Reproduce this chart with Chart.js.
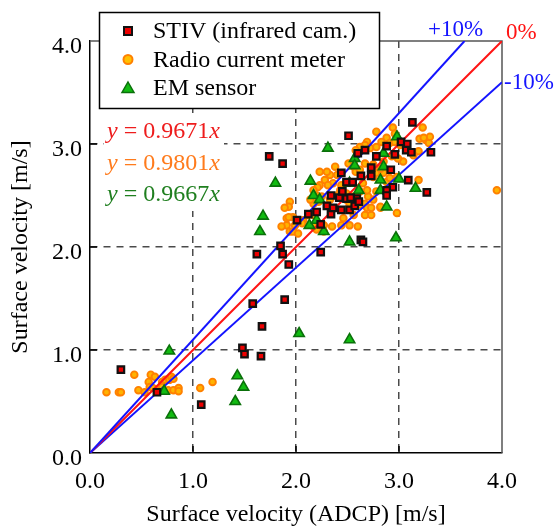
<!DOCTYPE html>
<html>
<head>
<meta charset="utf-8">
<script src="https://cdn.jsdelivr.net/npm/chart.js@4.4.0/dist/chart.umd.min.js"></script>
<style>
  html, body { margin: 0; padding: 0; background: #fff; }
  #wrap { position: relative; width: 555px; height: 531px; }
</style>
</head>
<body>
<div id="wrap"><canvas id="velocity-scatter-id"></canvas></div>
<script>
// ===================== DATA =====================
// surface velocity [m/s] : [ADCP, measured]
const stivPoints = [
  [0.30, 0.81], [0.65, 0.59], [1.08, 0.47], [1.48, 1.02], [1.50, 0.96], [1.66, 0.94],
  [1.67, 1.23], [1.58, 1.45], [1.89, 1.49], [1.74, 2.88], [1.87, 2.81], [2.01, 2.26],
  [2.12, 2.32], [1.85, 2.01], [1.62, 1.93], [1.87, 1.93], [1.93, 1.83], [2.20, 2.34],
  [2.24, 1.95], [2.24, 2.22], [2.30, 2.40], [2.34, 2.32], [2.36, 2.38], [2.44, 2.36],
  [2.42, 2.48], [2.45, 2.54], [2.49, 2.47], [2.52, 2.36], [2.57, 2.40], [2.59, 2.47],
  [2.51, 3.08], [2.44, 2.72], [2.49, 2.63], [2.55, 2.63], [2.60, 2.91], [3.13, 3.21],
  [3.02, 3.02], [3.08, 3.00], [2.88, 2.98], [3.07, 2.94], [3.12, 2.92], [3.31, 2.92],
  [2.96, 2.90], [2.67, 2.94], [2.78, 2.88], [2.92, 2.75], [2.73, 2.77], [2.73, 2.69],
  [2.63, 2.69], [3.09, 2.65], [3.27, 2.53], [2.94, 2.58], [2.88, 2.55], [2.88, 2.50],
  [2.34, 2.50], [2.53, 2.48], [2.61, 2.44], [2.63, 2.07], [2.65, 2.05]
];

const radioPoints = [
  [0.16, 0.59], [0.28, 0.59], [0.30, 0.59], [0.43, 0.76], [0.47, 0.61], [0.53, 0.59],
  [0.57, 0.69], [0.59, 0.76], [0.63, 0.74], [0.58, 0.64], [0.61, 0.63], [0.70, 0.69],
  [0.73, 0.71], [0.77, 0.71], [0.79, 0.74], [0.81, 0.72], [0.66, 0.61], [0.76, 0.61],
  [0.81, 0.61], [0.86, 0.63], [0.86, 0.60], [0.70, 0.64], [1.07, 0.63], [1.19, 0.69],
  [2.78, 3.12], [2.94, 3.16], [2.96, 3.10], [2.88, 3.06], [2.83, 3.02], [2.91, 3.01],
  [2.96, 3.02], [3.01, 2.99], [2.69, 3.02], [2.67, 2.99], [2.62, 2.97], [2.58, 2.94],
  [2.72, 2.96], [2.78, 2.97], [3.23, 3.16], [3.20, 3.05], [3.26, 3.04], [3.29, 3.01],
  [3.19, 2.93], [3.14, 2.89], [3.04, 2.83], [2.99, 2.86], [2.93, 2.88], [2.85, 2.83],
  [2.51, 2.81], [2.56, 2.83], [2.56, 2.78], [2.58, 2.73], [2.62, 2.75], [2.67, 2.81],
  [2.38, 2.78], [2.40, 2.70], [2.33, 2.70], [2.30, 2.73], [2.28, 2.65], [2.36, 2.62],
  [2.31, 2.60], [2.44, 2.60], [2.43, 2.55], [2.40, 2.50], [2.49, 2.46], [2.52, 2.42],
  [2.62, 2.41], [2.67, 2.42], [2.69, 2.38], [2.73, 2.38], [2.82, 2.38], [2.75, 2.46],
  [2.70, 2.49], [2.78, 2.54], [2.88, 2.63], [2.91, 2.67], [2.98, 2.68], [3.19, 2.65],
  [2.98, 2.33], [2.23, 2.60], [2.21, 2.58], [2.17, 2.55], [2.20, 2.50], [2.22, 2.44],
  [2.17, 2.42], [2.14, 2.46], [1.94, 2.44], [1.93, 2.39], [1.89, 2.38], [1.91, 2.28],
  [1.97, 2.29], [1.91, 2.21], [1.99, 2.21], [1.94, 2.15], [1.97, 2.15], [1.86, 2.20],
  [2.07, 2.26], [2.12, 2.31], [2.17, 2.31], [2.17, 2.20], [2.27, 2.21], [2.35, 2.20],
  [2.44, 2.21], [2.52, 2.21], [2.60, 2.20], [2.46, 2.28], [2.56, 2.31], [2.67, 2.31],
  [2.73, 2.31], [2.82, 2.39], [2.59, 2.49], [2.62, 2.54], [2.69, 2.55], [2.65, 2.62],
  [2.75, 2.68], [2.78, 2.72], [2.85, 2.72], [2.82, 2.76], [2.75, 2.80], [2.23, 2.73],
  [2.25, 2.49], [2.33, 2.46], [2.49, 2.52], [2.54, 2.49], [2.06, 2.23], [2.02, 2.13],
  [2.20, 2.17], [2.27, 2.15], [3.95, 2.55], [3.30, 3.07], [1.93, 2.29], [3.24, 3.06]
];

const emPoints = [
  [0.77, 0.99], [0.72, 0.60], [0.79, 0.37], [1.43, 0.75], [1.49, 0.64], [1.41, 0.50],
  [2.03, 1.16], [2.52, 1.10], [1.80, 2.62], [1.68, 2.30], [1.65, 2.15], [2.14, 2.64],
  [2.31, 2.96], [2.57, 2.86], [2.57, 2.79], [2.98, 3.07], [2.85, 2.91], [2.85, 2.78],
  [2.82, 2.65], [3.00, 2.66], [3.16, 2.57], [2.17, 2.50], [2.23, 2.46], [2.52, 2.62],
  [2.61, 2.55], [2.82, 2.55], [2.88, 2.39], [2.13, 2.21], [2.27, 2.15], [2.20, 2.26],
  [2.52, 2.05], [2.97, 2.09]
];

// reference lines y = r * x
const refRatios = [1.1, 1.0, 0.9];
const refLabels = ['+10%', '0%', '-10%'];
const refColors = ['#1414ff', '#ff1414', '#1414ff'];

const fitTexts = ['0.9671', '0.9801', '0.9667'];
const fitColors = ['#ee1c1c', '#ff7b1c', '#1f7f1f'];

const seriesNames = ['STIV (infrared cam.)', 'Radio current meter', 'EM sensor'];
const axisMax = 4;

const FONT = "'Liberation Serif', 'Times New Roman', serif";

const toXY = arr => arr.map(p => ({ x: p[0], y: p[1] }));

// line datasets, clipped at the frame
const refDatasets = refRatios.map((r, i) => {
  const xEnd = Math.min(axisMax, axisMax / r);
  return {
    type: 'line',
    data: [{ x: 0, y: 0 }, { x: xEnd, y: r * xEnd }],
    borderColor: refColors[i],
    borderWidth: 2,
    pointRadius: 0,
    fill: false,
    order: 2
  };
});

// ===================== ANNOTATIONS =====================
const annotate = {
  id: 'annotate',
  beforeDatasetsDraw(chart) {
    const { ctx, chartArea: a, scales } = chart;
    ctx.save();
    // white patch behind equations
    ctx.fillStyle = '#fff';
    ctx.fillRect(a.left + 14, a.top + 72, 120, 98);
    // top / right frame
    ctx.strokeStyle = '#555';
    ctx.lineWidth = 1.5;
    ctx.beginPath();
    ctx.moveTo(a.left, a.top);
    ctx.lineTo(a.right, a.top);
    ctx.lineTo(a.right, a.bottom);
    ctx.stroke();
    // inward ticks
    ctx.strokeStyle = '#000';
    for (let v = 1; v < axisMax; v++) {
      const py = scales.y.getPixelForValue(v);
      const px = scales.x.getPixelForValue(v);
      ctx.beginPath();
      ctx.moveTo(a.left, py); ctx.lineTo(a.left + 7, py);
      ctx.moveTo(px, a.bottom); ctx.lineTo(px, a.bottom - 7);
      ctx.stroke();
    }
    ctx.restore();
  },
  afterDraw(chart) {
    const { ctx, chartArea: a, scales } = chart;
    ctx.save();
    ctx.textBaseline = 'middle';

    // equations
    fitTexts.forEach((t, i) => {
      const y = a.top + 91 + i * 31.5;
      let x = a.left + 17;
      ctx.fillStyle = fitColors[i];
      const parts = [['y', true], [' = ' + t, false], ['x', true]];
      parts.forEach(([s, it]) => {
        ctx.font = (it ? 'italic ' : '') + '24px ' + FONT;
        ctx.fillText(s, x, y);
        x += ctx.measureText(s).width;
      });
    });

    // reference line labels
    ctx.font = '23px ' + FONT;
    ctx.fillStyle = refColors[0];
    ctx.textAlign = 'center';
    ctx.fillText(refLabels[0], scales.x.getPixelForValue(axisMax / refRatios[0]) - 9, a.top - 11);
    ctx.textAlign = 'left';
    ctx.fillStyle = refColors[1];
    ctx.fillText(refLabels[1], a.right + 4, a.top - 8);
    ctx.fillStyle = refColors[2];
    ctx.fillText(refLabels[2], a.right + 2, scales.y.getPixelForValue(axisMax * refRatios[2]) + 1);

    // legend box
    const lx = 99.5, ly = 12.5, lw = 280, lh = 96;
    ctx.fillStyle = '#fff';
    ctx.fillRect(lx, ly, lw, lh);
    ctx.strokeStyle = '#000';
    ctx.lineWidth = 1.5;
    ctx.strokeRect(lx, ly, lw, lh);

    const rows = [31, 59.5, 88];
    // square
    ctx.fillStyle = '#ee0000';
    ctx.strokeStyle = '#111';
    ctx.lineWidth = 2;
    ctx.fillRect(124, rows[0] - 4, 8, 8);
    ctx.strokeRect(124, rows[0] - 4, 8, 8);
    // circle
    ctx.beginPath();
    ctx.arc(128, rows[1], 4.5, 0, Math.PI * 2);
    ctx.fillStyle = '#ffc000';
    ctx.fill();
    ctx.strokeStyle = '#ff8000';
    ctx.stroke();
    // triangle
    ctx.beginPath();
    ctx.moveTo(128, rows[2] - 6);
    ctx.lineTo(134, rows[2] + 4.5);
    ctx.lineTo(122, rows[2] + 4.5);
    ctx.closePath();
    ctx.fillStyle = '#11bb11';
    ctx.fill();
    ctx.strokeStyle = '#0a700a';
    ctx.lineWidth = 1.5;
    ctx.stroke();

    ctx.fillStyle = '#000';
    ctx.font = '24px ' + FONT;
    seriesNames.forEach((n, i) => ctx.fillText(n, 153, rows[i] + 1));
    ctx.restore();
  }
};

// ===================== CHART =====================
const gridColor = c => (c.tick && c.tick.value > 0 && c.tick.value < axisMax) ? '#4a4a4a' : 'rgba(0,0,0,0)';
const tickFont = { family: FONT, size: 24 };

const scatterCtx = document.getElementById('velocity-scatter-id');
new Chart(scatterCtx, {
  type: 'scatter',
  data: {
    datasets: [
      {
        label: seriesNames[0],
        data: toXY(stivPoints),
        pointStyle: 'rect',
        pointRadius: 4.6,
        backgroundColor: '#ee0000',
        borderColor: '#111',
        borderWidth: 2.2,
        order: 0
      },
      {
        label: seriesNames[2],
        data: toXY(emPoints),
        pointStyle: 'triangle',
        pointRadius: 6,
        backgroundColor: '#11bb11',
        borderColor: '#0a700a',
        borderWidth: 1.6,
        order: 1
      },
      ...refDatasets,
      {
        label: seriesNames[1],
        data: toXY(radioPoints),
        pointStyle: 'circle',
        pointRadius: 3.3,
        backgroundColor: '#ffb300',
        borderColor: '#ff8000',
        borderWidth: 1.9,
        order: 3
      }
    ]
  },
  options: {
    responsive: true,
    maintainAspectRatio: false,
    animation: false,
    events: [],
    layout: { padding: { top: 41, right: 53, left: 0, bottom: 0 } },
    plugins: {
      legend: { display: false },
      tooltip: { enabled: false }
    },
    scales: {
      x: {
        type: 'linear',
        min: 0,
        max: axisMax,
        afterFit: s => { s.height = 78; },
        ticks: {
          stepSize: 1,
          color: '#000',
          font: tickFont,
          padding: 14,
          callback: v => v.toFixed(1)
        },
        grid: { drawTicks: false, color: gridColor, lineWidth: 1.5 },
        border: { display: true, color: '#000', width: 1.5, dash: [7, 6] },
        title: {
          display: true,
          text: 'Surface velocity (ADCP) [m/s]',
          color: '#000',
          font: { family: FONT, size: 24, lineHeight: 1.2 },
          padding: { top: 0, bottom: 2 }
        }
      },
      y: {
        type: 'linear',
        min: 0,
        max: axisMax,
        afterFit: s => { s.width = 90; },
        ticks: {
          stepSize: 1,
          color: '#000',
          font: tickFont,
          padding: 8,
          labelOffset: 6,
          callback: v => v.toFixed(1)
        },
        grid: { drawTicks: false, color: gridColor, lineWidth: 1.5 },
        border: { display: true, color: '#000', width: 1.5, dash: [7, 6] },
        title: {
          display: true,
          text: 'Surface velocity [m/s]',
          color: '#000',
          font: { family: FONT, size: 24 },
          padding: { top: 6, bottom: 0 }
        }
      }
    }
  },
  plugins: [annotate]
});
</script>
</body>
</html>
